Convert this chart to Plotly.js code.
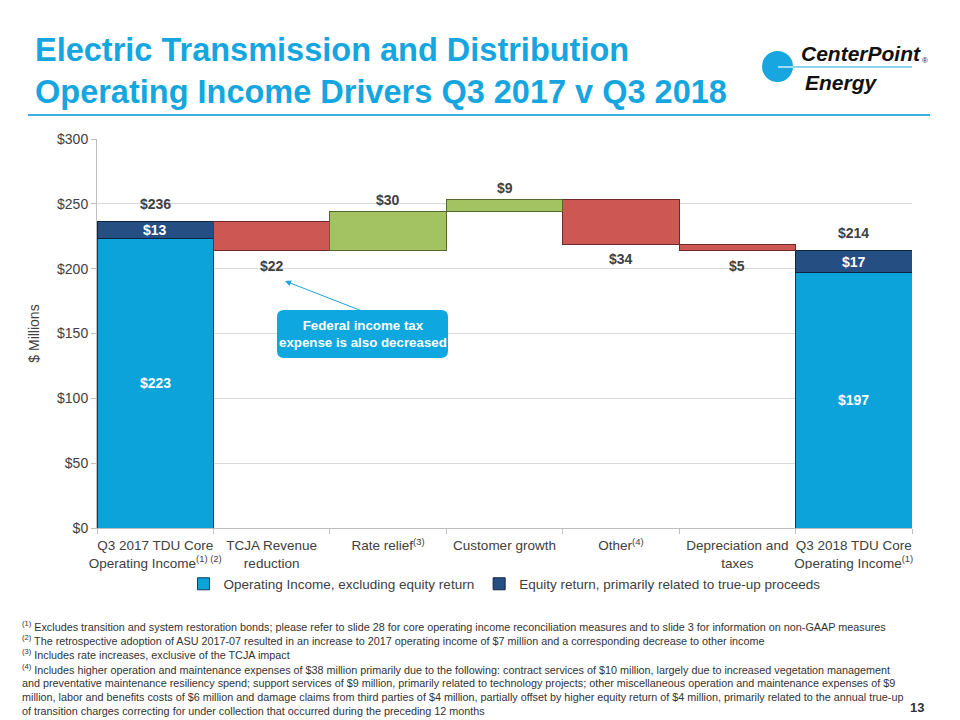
<!DOCTYPE html>
<html><head><meta charset="utf-8">
<script src="https://cdn.plot.ly/plotly-3.0.1.min.js"></script>
<style>body{margin:0;background:#fff}#c{width:960px;height:720px}</style>
</head><body><div id="c"></div>
<script>
// ---- data ----
const categories = [
  "Q3 2017 TDU Core<br>Operating Income<sup>(1) (2)</sup>",
  "TCJA Revenue<br>reduction",
  "Rate relief<sup>(3)</sup>",
  "Customer growth",
  "Other<sup>(4)</sup>",
  "Depreciation and<br>taxes",
  "Q3 2018 TDU Core<br>Operating Income<sup>(1)</sup>"
];
const opIncomeExEquity = [223, null, null, null, null, null, 197];
const equityReturn     = [13,  null, null, null, null, null, 17];
const changes          = [null, -22, 30, 9, -34, -5, null];
const yTickVals = [0, 50, 100, 150, 200, 250, 300];
const legendNames = ["Operating Income, excluding equity return", "Equity return, primarily related to true-up proceeds"];
const footnotes = [
  "<sup>(1)</sup> Excludes transition and system restoration bonds; please refer to slide 28 for core operating income reconciliation measures and to slide 3 for information on non-GAAP measures",
  "<sup>(2)</sup> The retrospective adoption of ASU 2017-07 resulted in an increase to 2017 operating income of $7 million and a corresponding decrease to other income",
  "<sup>(3)</sup> Includes rate increases, exclusive of the TCJA impact",
  "<sup>(4)</sup> Includes higher operation and maintenance expenses of $38 million primarily due to the following: contract services of $10 million, largely due to increased vegetation management",
  "and preventative maintenance resiliency spend; support services of $9 million, primarily related to technology projects; other miscellaneous operation and maintenance expenses of $9",
  "million, labor and benefits costs of $6 million and damage claims from third parties of $4 million, partially offset by higher equity return of $4 million, primarily related to the annual true-up",
  "of transition charges correcting for under collection that occurred during the preceding 12 months"
];

// ---- layout geometry ----
const L = 97, R = 48, T = 139, B = 192, W = 960, H = 720;
const PW = W - L - R, PH = H - T - B;
const px = x => (x - L) / PW;
const py = y => (H - B - y) / PH;

const FONT = "Liberation Sans, Arial, sans-serif";
const LBLUE = "#0ba3da", NAVY = "#254f82", RED = "#cd5753", GREEN = "#a3c363";
const TXT = "#404040";

// running totals for waterfall
const totals = [];
const incBase = [], incVal = [], decBase = [], decVal = [];
let run = 0;
categories.forEach((c, i) => {
  if (changes[i] === null) {
    run = (opIncomeExEquity[i] || 0) + (equityReturn[i] || 0);
    totals.push(run);
    incBase.push(null); incVal.push(null); decBase.push(null); decVal.push(null);
  } else {
    const d = changes[i];
    if (d >= 0) { incBase.push(run); incVal.push(d); decBase.push(null); decVal.push(null); }
    else { decBase.push(run + d); decVal.push(-d); incBase.push(null); incVal.push(null); }
    run += d;
    totals.push(run);
  }
});

const traces = [
  {type: "bar", x: categories, y: opIncomeExEquity, name: legendNames[0],
   marker: {color: LBLUE, line: {color: "#063f5c", width: 1}}, hoverinfo: "skip"},
  {type: "bar", x: categories, y: equityReturn, name: legendNames[1],
   marker: {color: NAVY, line: {color: "#0f2340", width: 1}}, hoverinfo: "skip"},
  {type: "bar", x: categories, y: decVal, base: decBase, showlegend: false,
   marker: {color: RED, line: {color: "#6e2a28", width: 1}}, hoverinfo: "skip"},
  {type: "bar", x: categories, y: incVal, base: incBase, showlegend: false,
   marker: {color: GREEN, line: {color: "#55692c", width: 1}}, hoverinfo: "skip"}
];

const annotations = [];
const lblFont = {family: FONT, size: 14, color: TXT};
const whiteFont = {family: FONT, size: 14, color: "#ffffff"};
const fmt = v => "$" + Math.abs(v);
categories.forEach((c, i) => {
  if (changes[i] === null) {
    annotations.push({x: c, y: totals[i], text: "<b>" + fmt(totals[i]) + "</b>", showarrow: false,
      yanchor: "bottom", yshift: 8, font: lblFont});
    annotations.push({x: c, y: opIncomeExEquity[i] / 2, text: "<b>" + fmt(opIncomeExEquity[i]) + "</b>", showarrow: false, font: whiteFont});
    annotations.push({x: c, y: opIncomeExEquity[i] + equityReturn[i] / 2, text: "<b>" + fmt(equityReturn[i]) + "</b>", showarrow: false, font: whiteFont});
  } else {
    const d = changes[i];
    if (d >= 0) {
      annotations.push({x: c, y: incBase[i] + incVal[i], text: "<b>" + fmt(d) + "</b>", showarrow: false,
        yanchor: "bottom", yshift: 2, font: lblFont});
    } else {
      annotations.push({x: c, y: decBase[i], text: "<b>" + fmt(d) + "</b>", showarrow: false,
        yanchor: "top", yshift: -5, font: lblFont});
    }
  }
});

// callout arrow
annotations.push({xref: "paper", yref: "paper", x: px(285), y: py(281), ax: px(362), ay: py(311),
  axref: "paper", ayref: "paper", text: "", showarrow: true, arrowhead: 2, arrowsize: 1.2,
  arrowwidth: 1, arrowcolor: "#1aa3dc"});
// callout text
annotations.push({xref: "paper", yref: "paper", x: px(363), y: py(334), xanchor: "center", yanchor: "middle",
  text: "<b>Federal income tax<br>expense is also decreased</b>",
  showarrow: false, font: {family: FONT, size: 13.3, color: "#ffffff"}, align: "center"});

// title
annotations.push({xref: "paper", yref: "paper", x: px(33), y: py(71), xanchor: "left", yanchor: "middle", align: "left",
  text: "<b>Electric Transmission and Distribution<br>Operating Income Drivers Q3 2017 v Q3 2018</b>",
  showarrow: false, font: {family: FONT, size: 32.5, color: "#16a6df"}});
// logo text
annotations.push({xref: "paper", yref: "paper", x: px(799), y: py(53), xanchor: "left", yanchor: "middle",
  text: "<b><i>CenterPoint</i></b>", showarrow: false, font: {family: FONT, size: 21, color: "#111"}});
annotations.push({xref: "paper", yref: "paper", x: px(920), y: py(60), xanchor: "left", yanchor: "middle",
  text: "®", showarrow: false, font: {family: FONT, size: 8, color: "#111"}});
annotations.push({xref: "paper", yref: "paper", x: px(803), y: py(82), xanchor: "left", yanchor: "middle",
  text: "<b><i>Energy</i></b>", showarrow: false, font: {family: FONT, size: 21, color: "#111"}});

// footnotes
footnotes.forEach((t, i) => {
  annotations.push({xref: "paper", yref: "paper", x: px(20), y: py(626 + i * 14.2), xanchor: "left", yanchor: "middle",
    text: t, showarrow: false, align: "left", font: {family: FONT, size: 10.8, color: "#333"}});
});
annotations.push({xref: "paper", yref: "paper", x: px(917), y: py(707), xanchor: "center", yanchor: "middle",
  text: "<b>13</b>", showarrow: false, font: {family: FONT, size: 13, color: "#333"}});

const shapes = [
  // title rule
  {type: "line", xref: "paper", yref: "paper", x0: px(28), x1: px(930), y0: py(115), y1: py(115),
   line: {color: "#3bb1e3", width: 2}},
  // logo circle
  {type: "circle", xref: "paper", yref: "paper", x0: px(762), x1: px(793), y0: py(51), y1: py(82),
   fillcolor: "#18a6e0", line: {width: 0}},
  {type: "line", xref: "paper", yref: "paper", x0: px(778), x1: px(793), y0: py(67), y1: py(67),
   line: {color: "#ffffff", width: 1.2}},
  {type: "line", xref: "paper", yref: "paper", x0: px(793), x1: px(912), y0: py(67), y1: py(67),
   line: {color: "#18a6e0", width: 1.2}},
  // callout box (rounded)
  (function () {
    const x0 = px(277), x1 = px(448), y0 = py(358), y1 = py(310);
    const rx = 7 / PW, ry = 7 / PH;
    return {type: "path", xref: "paper", yref: "paper", fillcolor: "#0ea7e0", line: {width: 0}, layer: "above",
      path: `M ${x0 + rx} ${y0} L ${x1 - rx} ${y0} Q ${x1} ${y0} ${x1} ${y0 + ry} L ${x1} ${y1 - ry} Q ${x1} ${y1} ${x1 - rx} ${y1} L ${x0 + rx} ${y1} Q ${x0} ${y1} ${x0} ${y1 - ry} L ${x0} ${y0 + ry} Q ${x0} ${y0} ${x0 + rx} ${y0} Z`};
  })()
];

const layout = {
  width: W, height: H,
  margin: {l: L, r: R, t: T, b: B},
  paper_bgcolor: "#ffffff", plot_bgcolor: "#ffffff",
  font: {family: FONT, size: 14, color: TXT},
  barmode: "stack", bargap: 0,
  showlegend: true,
  legend: {orientation: "h", x: 0.5, xanchor: "center", y: py(584), yanchor: "middle",
    font: {family: FONT, size: 13.5, color: TXT}, itemwidth: 30, traceorder: "normal"},
  xaxis: {type: "category", tickson: "boundaries", ticks: "outside", ticklen: 5, tickcolor: "#bfbfbf",
    tickangle: 0, automargin: false, ticklabelstandoff: 5,
    showline: true, linecolor: "#bfbfbf", linewidth: 1, showgrid: false,
    tickfont: {family: FONT, size: 13.5, color: TXT}},
  yaxis: {range: [0, 300], tickvals: yTickVals, ticktext: yTickVals.map(v => "$" + v),
    showgrid: true, gridcolor: "#d9d9d9", gridwidth: 1, zeroline: false, automargin: false,
    showline: true, linecolor: "#bfbfbf", ticks: "outside", ticklen: 5, tickcolor: "#bfbfbf",
    tickfont: {family: FONT, size: 14, color: TXT},
    title: {text: "$ Millions", font: {family: FONT, size: 14, color: TXT}, standoff: 14}},
  annotations: annotations,
  shapes: shapes
};

Plotly.newPlot("c", traces, layout, {displayModeBar: false, staticPlot: true});
</script>
</body></html>
